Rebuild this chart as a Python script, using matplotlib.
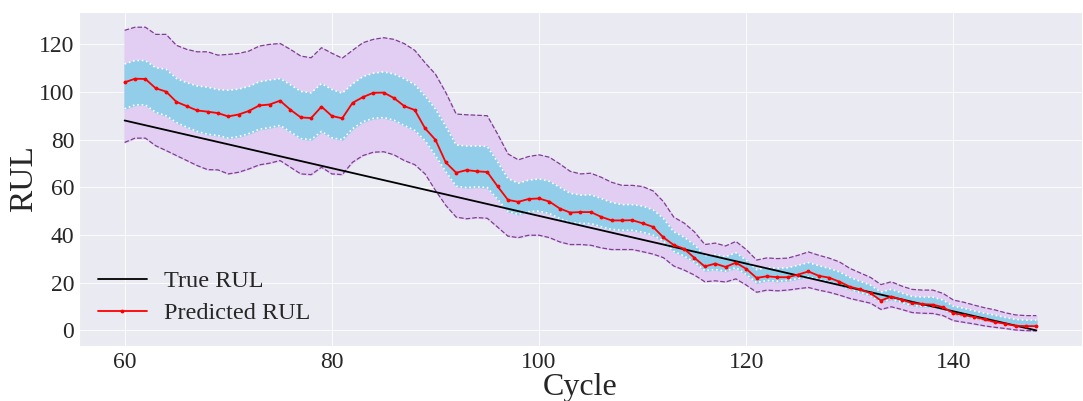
import numpy as np
import matplotlib
matplotlib.use("Agg")
import matplotlib.pyplot as plt
import seaborn as sns

cycles = np.arange(60, 149)

# true remaining useful life
true_rul = [148 - c for c in range(60, 149)]

# predicted RUL (red line)
pred_rul = [104.0, 105.5, 105.4, 101.5, 100.1, 95.8, 94.0, 92.2, 91.7, 91.1,
            89.7, 90.5, 92.0, 94.3, 94.7, 96.3, 92.5, 89.3, 89.0, 93.8,
            89.9, 88.9, 95.4, 97.8, 99.6, 99.7, 97.4, 94.0, 92.4, 84.7,
            79.9, 70.4, 66.1, 67.2, 66.7, 66.4, 60.4, 54.7, 53.9, 55.1,
            55.3, 54.0, 51.1, 49.4, 49.6, 49.6, 47.6, 46.1, 46.1, 46.2,
            44.9, 43.4, 39.0, 35.8, 34.2, 30.4, 26.8, 28.0, 26.6, 28.4,
            25.8, 22.0, 22.7, 22.3, 22.3, 23.4, 24.7, 22.9, 22.1, 20.4,
            18.3, 17.2, 15.6, 12.5, 14.2, 12.9, 11.5, 11.0, 10.8, 9.7,
            7.2, 6.4, 5.6, 4.6, 3.5, 2.8, 1.9, 1.8, 1.8]

# outer uncertainty band (dashed purple edges)
outer_upper = [125.8, 127.1, 127.1, 124.1, 124.1, 119.5, 117.8, 116.8, 116.8, 115.4,
               115.7, 116.1, 117.1, 119.2, 119.9, 120.3, 117.8, 115.0, 114.3, 118.5,
               116.2, 114.1, 117.4, 120.6, 122.0, 122.7, 122.0, 120.2, 117.4, 112.2,
               107.4, 99.7, 90.7, 90.4, 90.2, 90.0, 82.3, 74.0, 71.5, 72.9,
               73.6, 72.6, 69.8, 66.7, 65.6, 65.9, 64.2, 62.1, 60.8, 60.8,
               60.3, 58.5, 54.0, 47.5, 45.0, 41.3, 36.0, 36.6, 35.4, 37.3,
               33.9, 29.5, 30.4, 30.1, 30.3, 31.5, 32.9, 31.5, 30.3, 28.7,
               26.0, 24.1, 22.2, 19.2, 20.4, 18.6, 17.2, 16.9, 16.9, 15.5,
               12.7, 11.8, 10.6, 9.5, 8.6, 7.4, 6.5, 6.2, 6.2]
outer_lower = [78.8, 80.6, 80.6, 77.4, 75.4, 73.3, 71.2, 69.1, 67.4, 67.3,
               65.6, 66.3, 67.7, 69.4, 70.1, 71.2, 68.4, 65.6, 65.3, 68.4,
               65.6, 65.3, 70.5, 73.3, 74.7, 74.9, 73.6, 71.2, 69.5, 65.6,
               58.7, 52.4, 47.5, 46.8, 47.3, 47.0, 43.3, 39.5, 38.9, 39.9,
               39.9, 38.9, 37.1, 36.0, 36.0, 35.7, 34.6, 33.9, 33.9, 33.9,
               33.0, 32.0, 30.5, 27.0, 25.3, 23.2, 20.4, 20.8, 20.3, 21.6,
               19.0, 16.0, 16.9, 16.6, 16.9, 17.5, 18.0, 16.9, 16.0, 14.8,
               13.4, 12.4, 11.4, 8.8, 9.9, 8.8, 7.5, 7.2, 7.1, 6.2,
               4.1, 3.4, 2.7, 1.9, 1.3, 0.8, 0.2, -0.1, -0.2]

up = np.array(outer_upper)
lo = np.array(outer_lower)
mid = (up + lo) / 2
half = (up - lo) / 2
inner_upper = mid + half / 2.5
inner_lower = mid - half / 2.5

sns.set_style("darkgrid")
plt.rcParams['font.family'] = ['Liberation Serif', 'DejaVu Serif']

fig = plt.figure(figsize=(10.83, 4.01), dpi=100)
ax = fig.add_axes([0.073, 0.137, 0.926, 0.833])

ax.fill_between(cycles, lo, up, color='#E2CDF3', zorder=1)
ax.plot(cycles, up, ls='--', color='#7E3F8F', lw=0.9, zorder=2)
ax.plot(cycles, lo, ls='--', color='#7E3F8F', lw=0.9, zorder=2)
ax.fill_between(cycles, inner_lower, inner_upper, color='#92CDEA', zorder=3)
ax.plot(cycles, inner_upper, ls=':', color='white', lw=1.2, zorder=4)
ax.plot(cycles, inner_lower, ls=':', color='white', lw=1.2, zorder=4)

ax.plot(cycles, true_rul, color='black', lw=1.3, label='True RUL', zorder=5)
ax.plot(cycles, pred_rul, color='red', lw=1.3, marker='.', ms=3.5,
        label='Predicted RUL', zorder=6)

ax.set_yticks([0, 20, 40, 60, 80, 100, 120])
ax.set_xticks([60, 80, 100, 120, 140])
ax.set_xlabel('Cycle', fontsize=23, labelpad=0)
ax.set_ylabel('RUL', fontsize=24, labelpad=0)
ax.tick_params(axis='x', labelsize=17, pad=1)
ax.tick_params(axis='y', labelsize=17, pad=0)
ax.grid(lw=0.6)
ax.legend(loc='lower left', fontsize=17.5, frameon=False,
          bbox_to_anchor=(-0.003, 0.0), handlelength=2.0, handletextpad=0.7,
          labelspacing=0.4)

fig.savefig('out.png', dpi=100)
